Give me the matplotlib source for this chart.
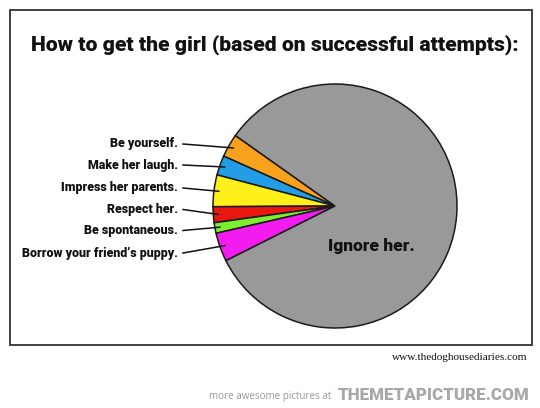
import numpy as np
from matplotlib import pyplot as plt
from matplotlib.patches import Rectangle

labels = ["Be yourself.", "Make her laugh.", "Impress her parents.",
          "Respect her.", "Be spontaneous.", "Borrow your friend\u2019s puppy.",
          "Ignore her."]
shares = [3.1, 2.6, 4.2, 2.1, 1.4, 3.8, 82.8]
colors = ["#f7a11c", "#239ee6", "#fff01c", "#e8170f", "#7ced2f", "#f21cf0",
          "#999999"]

title = "How to get the girl (based on successful attempts):"
credit = "www.thedoghousediaries.com"

W, H = 540, 408
fig = plt.figure(figsize=(W / 100, H / 100), dpi=100)
ax = fig.add_axes([0, 0, 1, 1])
renderer = fig.canvas.get_renderer()


def fit(t, width):
    # shrink/grow a text so it spans the given width in pixels
    w = t.get_window_extent(renderer).width
    t.set_fontsize(t.get_fontsize() * width / w)
    return t


cx, cy, r = 335, H - 206, 122
wedges, _ = ax.pie(shares, colors=colors, startangle=144.7, center=(cx, cy),
                   radius=r, frame=True,
                   wedgeprops=dict(edgecolor="#1a1a1a", linewidth=1.1))
ax.set_xlim(0, W)
ax.set_ylim(0, H)
ax.set_aspect("equal")
ax.axis("off")

# frame round the comic
ax.add_patch(Rectangle((10, H - 345), 522, 335, fill=False,
                       edgecolor="#333333", linewidth=1.3))

bold = dict(family=["Roboto", "DejaVu Sans"], weight="heavy")
fit(ax.text(275, H - 45, title, ha="center", va="center", fontsize=16,
            color="#111111", **bold), 488)

label_y = [144, 165, 188, 209.5, 230.5, 253]
texts = []
for w, lab, y in zip(wedges[:-1], labels[:-1], label_y):
    texts.append(ax.text(178, H - y, lab, ha="right", va="center",
                         fontsize=10, color="#111111", **bold))
    mid = np.radians((w.theta1 + w.theta2) / 2)
    ex = cx + 0.96 * r * np.cos(mid)
    ey = cy + 0.96 * r * np.sin(mid)
    ax.plot([183, ex], [H - y, ey], color="#111111", lw=1.1)
fit(texts[-1], 155)
for t in texts[:-1]:
    t.set_fontsize(texts[-1].get_fontsize())

fit(ax.text(371.5, H - 246, labels[-1], ha="center", va="center",
            fontsize=14, color="#111111", **bold), 87)

fit(ax.text(528, H - 357, credit, ha="right", va="center", fontsize=8,
            family="Liberation Serif", color="#111111"), 136)

fit(ax.text(331, H - 396, "more awesome pictures at", ha="right",
            va="center", fontsize=9, family="Open Sans", color="#9a9a9a"), 124)
fit(ax.text(530, H - 395, "THEMETAPICTURE.COM", ha="right", va="center",
            fontsize=14, color="#a8a8a8", **bold), 192)

fig.savefig("out.png", dpi=100, facecolor="white")
